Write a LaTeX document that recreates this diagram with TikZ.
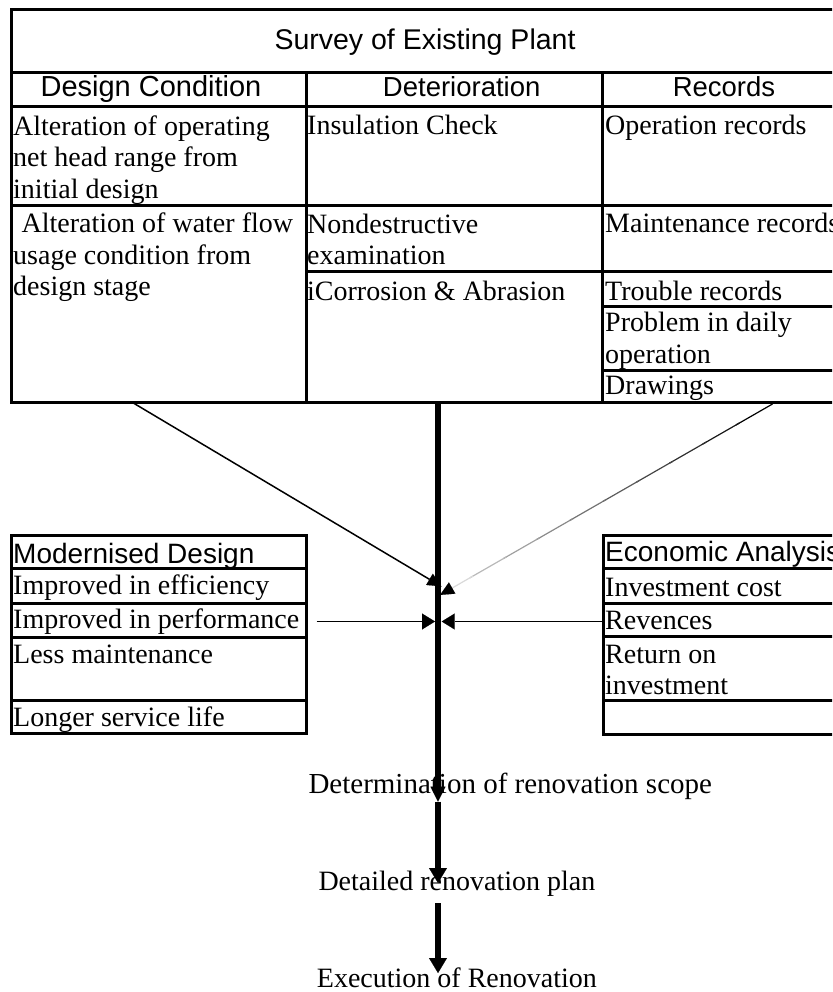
\documentclass[tikz,border=0pt]{standalone}
\usepackage{fontspec}
\setmainfont{Liberation Serif}
\newfontfamily\hsans{Liberation Sans}
\usetikzlibrary{arrows.meta,calc}
\newcommand\mystrut[1]{\rule{0pt}{#1pt}}
\begin{document}
\begin{tikzpicture}[x=1pt,y=-1pt,
  frame/.style={line width=3pt,line join=miter},
  txt/.style={inner sep=0pt,font=\fontsize{28}{31.5}\selectfont},
  mtxt/.style={txt,anchor=north west,align=left},
  stxt/.style={txt,anchor=base west},
  head/.style={inner sep=0pt,anchor=base,font=\hsans\fontsize{27.5}{30}\selectfont},
  bhead/.style={inner sep=0pt,anchor=base west,font=\hsans\fontsize{28}{30}\selectfont},
  flow/.style={line width=6.7pt,-{Triangle[length=15pt,width=#1,line width=0.1pt]}},
  thinarrow/.style={line width=1.5pt,-{Triangle[length=14pt,width=13pt,line width=0.1pt]}},
  harrow/.style={line width=1.5pt,-{Triangle[length=13pt,width=16pt,line width=0.1pt]}},
]
\useasboundingbox (0,0) rectangle (832,992);
\clip (0,0) rectangle (832,992);

% ---------- survey table ----------
\draw[frame] (870,9.5) -- (11.5,9.5) -- (11.5,402.7) -- (870,402.7);
\draw[frame] (11.5,72.5) -- (870,72.5);
\draw[frame] (11.5,107) -- (870,107);
\draw[frame] (306.5,72.5) -- (306.5,402.7);
\draw[frame] (602.7,72.5) -- (602.7,402.7);
\draw[frame] (11.5,206) -- (870,206);
\draw[frame] (306.5,271.7) -- (870,271.7);
\draw[frame] (602.7,306.7) -- (870,306.7);
\draw[frame] (602.7,370) -- (870,370);

\node[head,font=\hsans\fontsize{28.5}{30}\selectfont] (title) at (425,49.5) {Survey of Existing Plant};
\node[head,font=\hsans\fontsize{29}{30}\selectfont] (hd1) at (151,96.7) {Design Condition};
\node[head] (hd2) at (461.7,96.7) {Deterioration};
\node[head] (hd3) at (724,96.7) {Records};

\node[mtxt] (c11) at (13,107) {\mystrut{28}Alteration of operating\\net head range from\\initial design};
\node[mtxt] (c12) at (13,206) {\mystrut{26.7}\hspace*{8.5pt}Alteration of water flow\\usage condition from\\design stage};
\node[stxt] (c21) at (307,135) {Insulation Check};
\node[mtxt] (c22) at (307,206) {\mystrut{27}Nondestructive\\examination};
\node[stxt] (c23) at (307,300) {iCorrosion \& Abrasion};
\node[stxt] (c31) at (605,135) {Operation records};
\node[stxt] (c32) at (605,233) {Maintenance records};
\node[stxt] (c33) at (605,300) {Trouble records};
\node[mtxt] (c34) at (605,306.7) {\mystrut{25}Problem in daily\\operation};
\node[stxt] (c35) at (605,394) {Drawings};

% ---------- modernised design ----------
\draw[frame] (11.5,535) rectangle (306.5,733.5);
\draw[frame] (11.5,568.5) -- (306.5,568.5);
\draw[frame] (11.5,603) -- (306.5,603);
\draw[frame] (11.5,637) -- (306.5,637);
\draw[frame] (11.5,700) -- (306.5,700);
\node[bhead] (md) at (13,563.3) {Modernised Design};
\node[stxt] (m1) at (13,594.3) {Improved in efficiency};
\node[stxt] (m2) at (13,628) {Improved in performance};
\node[stxt] (m3) at (13,663) {Less maintenance};
\node[stxt] (m4) at (13,726.7) {Longer service life};

% ---------- economic analysis ----------
\draw[frame] (870,535) -- (603,535) -- (603,734) -- (870,734);
\draw[frame] (603,568.3) -- (870,568.3);
\draw[frame] (603,603) -- (870,603);
\draw[frame] (603,636.3) -- (870,636.3);
\draw[frame] (603,700) -- (870,700);
\node[bhead] (ea) at (605,561.7) {Economic Analysis};
\node[stxt] (e1) at (605,596) {Investment cost};
\node[stxt] (e2) at (605,629) {Revences};
\node[mtxt] (e3) at (605,636.3) {\mystrut{26.7}Return on\\investment};

% ---------- flow texts ----------
\node[stxt,font=\fontsize{29}{31.5}\selectfont] (f1) at (308.3,793.3) {Determination of renovation scope};
\node[stxt] (f2) at (318.3,890) {Detailed renovation plan};
\node[stxt] (f3) at (316.7,987.3) {Execution of Renovation};

% ---------- connectors ----------
\coordinate (vtop) at (438,402.7);
\coordinate (t1) at (438,801.7);
\coordinate (t2) at (438,883);
\coordinate (s3) at (438,903);
\coordinate (t3) at (438,973);
\draw[flow=15pt] (vtop) -- (t1);
\draw[flow=18pt] (t1) -- (t2);
\draw[flow=18pt] (s3) -- (t3);

\coordinate (dl0) at (132.5,402.5);
\coordinate (dl1) at (441.5,586.5);
\draw[thinarrow] (dl0) -- (dl1);

\coordinate (dr0) at (772.5,404);
\coordinate (dr1) at (440,595);
\foreach \i in {0,...,8}{
  \pgfmathsetmacro\pa{\i/10}
  \pgfmathsetmacro\pb{(\i+1)/10+0.01}
  \pgfmathtruncatemacro\pc{100-9*\i}
  \draw[line width=1.2pt,black!\pc] ($(dr0)!\pa!(dr1)$) -- ($(dr0)!\pb!(dr1)$);
}
\draw[line width=1.2pt,black!15,-{Triangle[length=14pt,width=13pt,line width=0.1pt,color=black]}] ($(dr0)!0.9!(dr1)$) -- (dr1);

\coordinate (hl0) at (316.7,621.5);
\coordinate (hl1) at (435,621.5);
\draw[harrow] (hl0) -- (hl1);
\coordinate (hr0) at (603,621.5);
\coordinate (hr1) at (441.7,621.5);
\draw[harrow] (hr0) -- (hr1);
\end{tikzpicture}
\end{document}
